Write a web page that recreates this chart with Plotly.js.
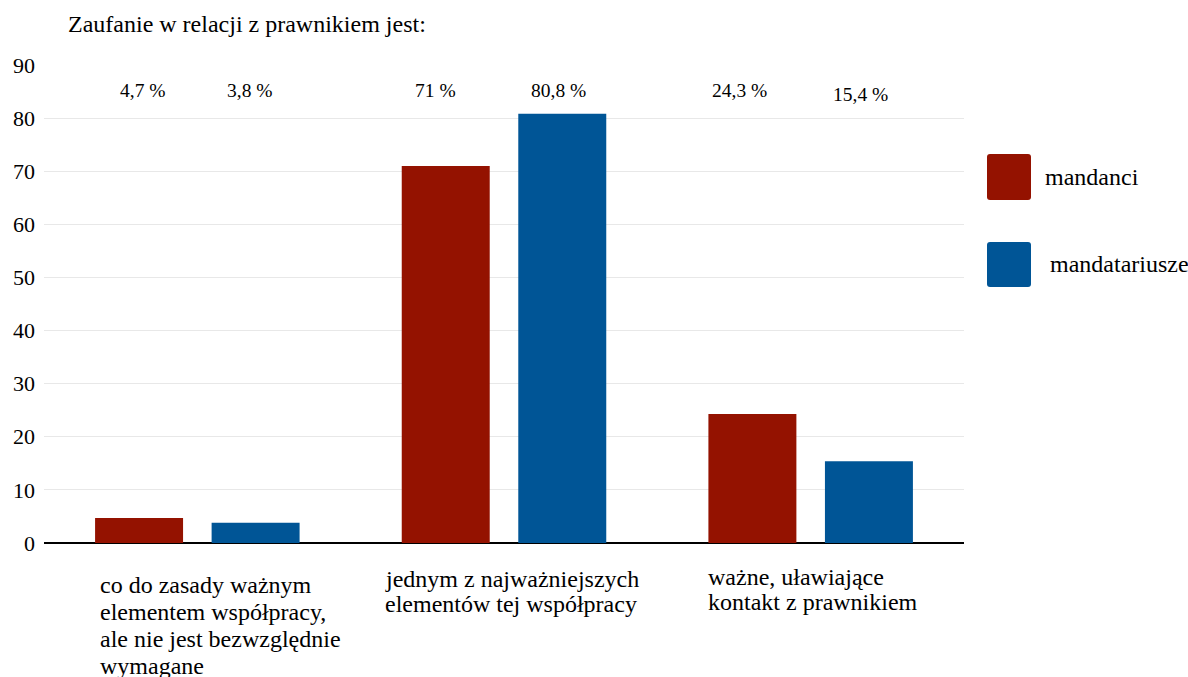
<!DOCTYPE html>
<html>
<head>
<meta charset="utf-8">
<script src="https://cdn.plot.ly/plotly-3.0.1.min.js"></script>
<style>
  html, body { margin: 0; padding: 0; background: #fff; }
  #chart { width: 1188px; height: 677px; }
</style>
</head>
<body>
<div id="chart"></div>
<script>
// Survey answers: how clients (mandanci) and lawyers (mandatariusze) rate trust
const categories = [
  'co do zasady ważnym<br>elementem współpracy,<br>ale nie jest bezwzględnie<br>wymagane',
  'jednym z najważniejszych<br>elementów tej współpracy',
  'ważne, uławiające<br>kontakt z prawnikiem'
];
const seriesNames = ['mandanci', 'mandatariusze'];
const mandanci = [4.7, 71, 24.3];
const mandatariusze = [3.8, 80.8, 15.4];
const chartTitle = 'Zaufanie w relacji z prawnikiem jest:';

// Styling and placement
const FONT = '"Liberation Serif", "Times New Roman", Times, serif';
const colors = ['#941200', '#005596'];
const M = { l: 44, r: 224, t: 65, b: 134 };
const W = 1188, H = 677;
const plotW = W - M.l - M.r, plotH = H - M.t - M.b;

// value labels sit in a row near the top of the plot
const valueLabelShift = [[-54, -69, -71], [53, 54, 50]];
const valueLabelDrop = [[25, 25, 25], [25, 25, 29]];

// category captions, left aligned under each group
const captionShift = [-99, -121, -105];
const captionFirst = [42, 36, 34];
const captionStep = [27, 25, 25];

const fmt = v => String(v).replace('.', ',') + ' %';

const series = [mandanci, mandatariusze];
const traces = series.map((vals, i) => ({
  type: 'bar',
  name: seriesNames[i],
  x: categories,
  y: vals,
  marker: { color: colors[i], line: { width: 0 } },
  hoverinfo: 'skip',
  showlegend: false
}));

const annotations = [];
series.forEach((vals, s) => {
  vals.forEach((v, c) => {
    annotations.push({
      x: categories[c], y: 90, xref: 'x', yref: 'y',
      text: fmt(v), showarrow: false,
      xanchor: 'center', yanchor: 'middle',
      xshift: valueLabelShift[s][c], yshift: -valueLabelDrop[s][c],
      font: { family: FONT, size: 19.5, color: '#000' }
    });
  });
});

categories.forEach((cat, c) => {
  cat.split('<br>').forEach((line, k) => {
    annotations.push({
      x: cat, y: 0, xref: 'x', yref: 'y',
      text: line, showarrow: false,
      xanchor: 'left', yanchor: 'middle',
      xshift: captionShift[c], yshift: -(captionFirst[c] + k * captionStep[c]),
      font: { family: FONT, size: 24, color: '#000' }
    });
  });
});

// Legend: large rounded swatches with names beside them
const px = x => (x - M.l) / plotW;
const py = y => (M.t + plotH - y) / plotH;
function roundRect(x0, y0, x1, y1, r) {
  const X = v => px(v), Y = v => py(v);
  return 'M' + X(x0 + r) + ',' + Y(y0) +
    ' L' + X(x1 - r) + ',' + Y(y0) + ' Q' + X(x1) + ',' + Y(y0) + ' ' + X(x1) + ',' + Y(y0 + r) +
    ' L' + X(x1) + ',' + Y(y1 - r) + ' Q' + X(x1) + ',' + Y(y1) + ' ' + X(x1 - r) + ',' + Y(y1) +
    ' L' + X(x0 + r) + ',' + Y(y1) + ' Q' + X(x0) + ',' + Y(y1) + ' ' + X(x0) + ',' + Y(y1 - r) +
    ' L' + X(x0) + ',' + Y(y0 + r) + ' Q' + X(x0) + ',' + Y(y0) + ' ' + X(x0 + r) + ',' + Y(y0) + ' Z';
}
const legendBoxes = [[987, 154, 1031, 200], [987, 242, 1031, 287]];
const legendText = [[1043, 177], [1048, 264]];
const shapes = legendBoxes.map((b, i) => ({
  type: 'path', xref: 'paper', yref: 'paper',
  path: roundRect(b[0], b[1], b[2], b[3], 3),
  fillcolor: colors[i], line: { width: 0 }
}));
seriesNames.forEach((n, i) => {
  annotations.push({
    x: px(legendText[i][0]), y: py(legendText[i][1]), xref: 'paper', yref: 'paper',
    text: n, showarrow: false, xanchor: 'left', yanchor: 'middle',
    font: { family: FONT, size: 24, color: '#000' }
  });
});

const layout = {
  width: W, height: H,
  margin: M,
  paper_bgcolor: '#fff', plot_bgcolor: '#fff',
  font: { family: FONT, color: '#000' },
  title: {
    text: chartTitle,
    xref: 'container', yref: 'container',
    x: 68 / W, xanchor: 'left',
    y: 1 - 24 / H, yanchor: 'middle',
    font: { family: FONT, size: 24, color: '#000' }
  },
  barmode: 'group',
  bargap: 0.24,
  bargroupgap: 0.245,
  xaxis: {
    type: 'category',
    showticklabels: false, showgrid: false, zeroline: false, showline: false,
    ticks: ''
  },
  yaxis: {
    range: [0, 90], dtick: 10, tick0: 0,
    showgrid: true, gridcolor: '#e8e8e8', gridwidth: 1,
    zeroline: true, zerolinecolor: '#000', zerolinewidth: 2,
    showline: false, ticks: '', ticklabelstandoff: 8,
    tickfont: { family: FONT, size: 22, color: '#000' },
    fixedrange: true
  },
  showlegend: false,
  annotations: annotations,
  shapes: shapes
};

Plotly.newPlot('chart', traces, layout, { displayModeBar: false, staticPlot: true });
</script>
</body>
</html>
